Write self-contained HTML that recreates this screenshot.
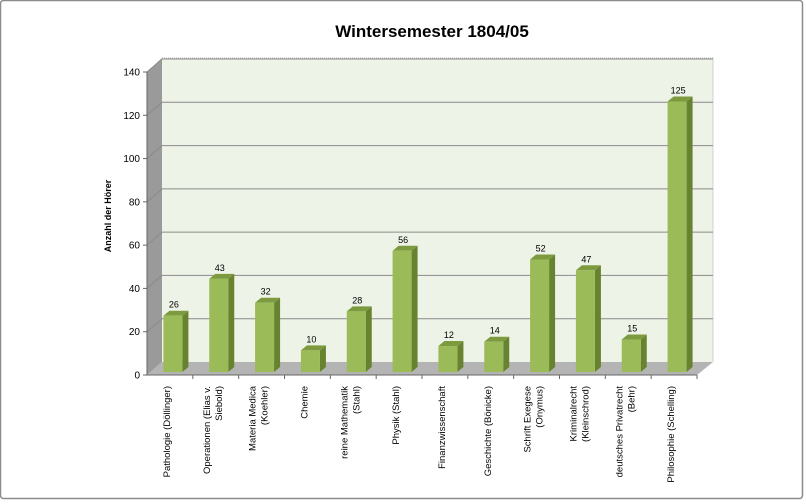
<!DOCTYPE html>
<html><head><meta charset="utf-8"><style>
html,body{margin:0;padding:0;background:#fff;}
svg{display:block;font-family:"Liberation Sans",sans-serif;}
</style></head><body>
<svg id="s" width="806" height="504" viewBox="0 0 806 504" xmlns="http://www.w3.org/2000/svg">
<rect x="0.5" y="0.5" width="802" height="498" rx="3" fill="#fff" stroke="#8c8c8c" stroke-width="1.5"/>
<text x="432" y="37" text-anchor="middle" font-size="17" font-weight="bold" fill="#000">Wintersemester 1804/05</text>
<rect x="162" y="58" width="551" height="304" fill="#eef3e8"/>
<line x1="162" y1="58" x2="713" y2="58" stroke="#b0b0b0" stroke-dasharray="1,1"/>
<line x1="713" y1="58" x2="713" y2="362" stroke="#d0d0d0"/>
<polygon points="147,72 162,58 162,362 147,375" fill="#9a9a9a"/>
<polygon points="147,375 697,375 713,362 162,362" fill="#b4b4b4"/>
<g id="grid" stroke="#8a8a8a" stroke-width="1"></g>
<line x1="147" y1="72" x2="147" y2="375" stroke="#666"/>
<line x1="147" y1="375" x2="697" y2="375" stroke="#666"/>
<g id="ticks" font-size="10" fill="#000"></g>
<text transform="translate(111,216) rotate(-90)" text-anchor="middle" font-size="9" font-weight="bold">Anzahl der Hörer</text>
<g id="bars"></g>
<g id="labs" font-size="9" fill="#000"></g>
</svg>
<script>
var NS="http://www.w3.org/2000/svg";
function el(p,t,a,txt){var e=document.createElementNS(NS,t);for(var k in a)e.setAttribute(k,a[k]);if(txt!=null)e.textContent=txt;document.getElementById(p).appendChild(e);return e;}
var k=303/140;
for(var v=0;v<=140;v+=20){
  var yf=375-v*k, yb=362-v*k;
  if(v>0){el("grid","line",{x1:162,y1:yb,x2:713,y2:yb});el("grid","line",{x1:147,y1:yf,x2:162,y2:yb});}
  el("ticks","line",{x1:143,y1:yf,x2:147,y2:yf,stroke:"#666"});
  el("ticks","text",{x:140,y:yf+3.5,"text-anchor":"end"},String(v));
}
var vals=[26,43,32,10,28,56,12,14,52,47,15,125];
var cats=[["Pathologie (Döllinger)"],["Operationen (Elias v.","Siebold)"],["Materia Medica","(Koehler)"],["Chemie"],["reine Mathematik","(Stahl)"],["Physik (Stahl)"],["Finanzwissenschaft"],["Geschichte (Bönicke)"],["Schrift Exegese","(Onymus)"],["Kriminalrecht","(Kleinschrod)"],["deutsches Privatrecht","(Behr)"],["Philosophie (Schelling)"]];
var w=550/12;
for(var i=0;i<12;i++){
  var xt=147+w*i; el("ticks","line",{x1:xt+w,y1:375,x2:xt+w,y2:379,stroke:"#666"});
  var c=147+w*(i+0.5)+3, x=c-9.5, b=372, t=372-vals[i]*k;
  el("bars","polygon",{points:(x+19)+","+t+" "+(x+25)+","+(t-5)+" "+(x+25)+","+(b-5)+" "+(x+19)+","+b,fill:"#67832f"});
  el("bars","polygon",{points:x+","+t+" "+(x+6)+","+(t-5)+" "+(x+25)+","+(t-5)+" "+(x+19)+","+t,fill:"#7d9b3e"});
  el("bars","rect",{x:x,y:t,width:19,height:b-t,fill:"#9bbb59"});
  el("labs","text",{x:c+1,y:t-8,"text-anchor":"middle"},String(vals[i]));
  var L=cats[i], cx=c-3;
  for(var j=0;j<L.length;j++){
    var lx = L.length==1 ? cx : cx-6+j*12;
    el("labs","text",{transform:"translate("+lx+",386) rotate(-90)","text-anchor":"end","font-size":"9.5"},L[j]);
  }
}
</script>
</body></html>
